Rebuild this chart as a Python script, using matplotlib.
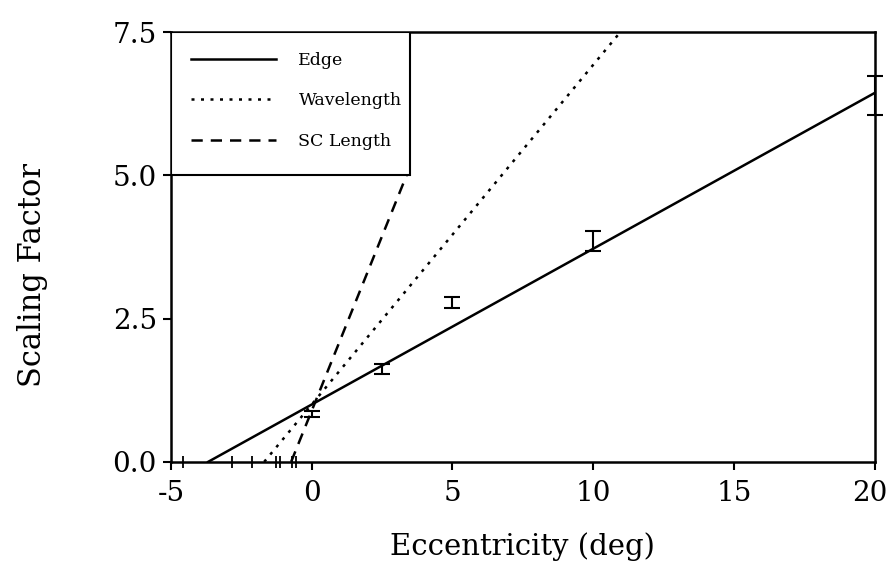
import matplotlib as mpl
mpl.use('Agg')
import matplotlib.pyplot as plt
import matplotlib.transforms as mtransforms
import numpy as np

plt.rcParams['font.family'] = ['DejaVu Serif']

# measured points (eccentricity, scaling factor, error)
ecc = [0, 2.5, 5, 10, 20]
scale = [0.84, 1.62, 2.78, 3.85, 6.39]
scale_err = [0.05, 0.08, 0.10, 0.17, 0.34]

# fitted lines: intercept, slope, last x drawn
fit_names = ['Edge', 'Wavelength', 'SC Length']
fit_icpt = [1.00, 1.00, 0.89]
fit_slope = [0.272, 0.593, 1.22]
fit_xend = [20, 11, 3.37]
fit_styles = ['-', (0, (1.2, 2.6)), (0, (4.5, 3.2))]

# odd extra ticks along the x axis
minor_x = [-4.57, -2.84, -2.13, -1.28, -1.13, -0.71, -0.57]

fig = plt.figure(figsize=(8.9, 5.73), dpi=100)
ax = fig.add_axes([0.192, 0.194, 0.791, 0.750])

for name, b, m, xe, ls in zip(fit_names, fit_icpt, fit_slope, fit_xend, fit_styles):
	x0 = -b / m
	xs = np.linspace(x0, xe, 200)
	ax.plot(xs, b + m * xs, color='black', lw=1.8, ls=ls, label=name, zorder=2)

ax.errorbar(ecc, scale, yerr=scale_err, fmt='none', ecolor='black',
	elinewidth=1.5, capsize=6, capthick=1.5, clip_on=False, zorder=3)

ax.set_xlim(-5, 20)
ax.set_ylim(0, 7.5)
ax.set_xticks([-5, 0, 5, 10, 15, 20])
ax.set_xticks(minor_x, minor=True)
ax.set_yticks([0, 2.5, 5.0, 7.5])
ax.set_yticklabels(['0.0', '2.5', '5.0', '7.5'])
ax.set_xticklabels(['-5', '0', '5', '10', '15', '20'])
ax.tick_params(axis='both', which='major', labelsize=20, length=6, width=1.5, direction='out')
ax.tick_params(axis='x', which='major', pad=7)
ax.tick_params(axis='y', which='major', pad=4)
ax.tick_params(axis='x', which='minor', length=8, width=1.3, direction='inout')
for s in ax.spines.values():
	s.set_linewidth(1.8)

# nudge the last x label so it stays inside the figure
last = ax.get_xticklabels()[-1]
last.set_transform(last.get_transform() + mtransforms.ScaledTranslation(-4 / 72, 0, fig.dpi_scale_trans))

ax.set_xlabel('Eccentricity (deg)', fontsize=21, labelpad=18)
ax.set_ylabel('Scaling Factor', fontsize=22)
ax.yaxis.set_label_coords(-0.175, 0.435)

# white legend box covering the upper-left third
box = plt.Rectangle((0, 2 / 3), 0.34, 1 / 3, transform=ax.transAxes,
	facecolor='white', edgecolor='black', lw=1.5, zorder=4)
ax.add_patch(box)
leg = ax.legend(loc='upper left', bbox_to_anchor=(0, 1), borderaxespad=0,
	fontsize=12.5, frameon=False, handlelength=4.9, handletextpad=1.3,
	labelspacing=1.35, borderpad=1.15)
leg.set_zorder(5)

plt.savefig('out.png', dpi=100)
